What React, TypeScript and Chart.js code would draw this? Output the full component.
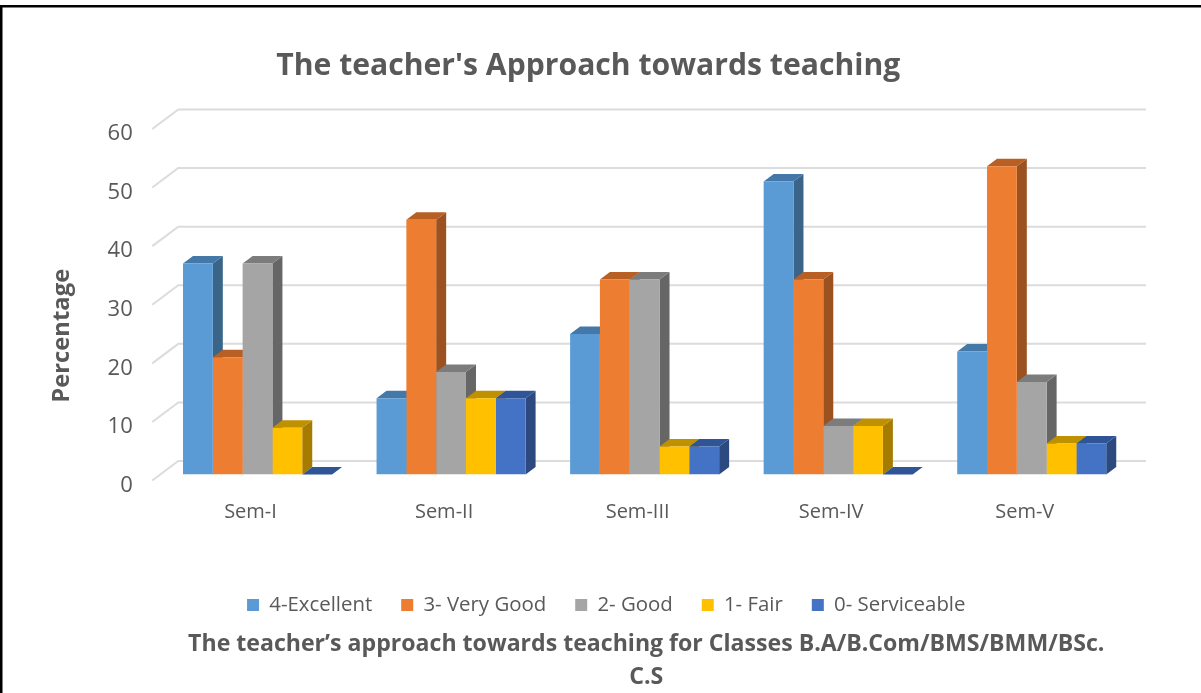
import React, { useEffect, useRef } from "react";
import { Chart, registerables } from "chart.js";

Chart.register(...registerables);

const categories = ["Sem-I", "Sem-II", "Sem-III", "Sem-IV", "Sem-V"];
const seriesNames = ["4-Excellent", "3- Very Good", "2- Good", "1- Fair", "0- Serviceable"];
const excellent = [36, 13, 24, 50, 21];
const veryGood = [20, 43.5, 33.3, 33.3, 52.6];
const good = [36, 17.5, 33.3, 8.3, 15.8];
const fair = [8, 13, 4.8, 8.3, 5.3];
const serviceable = [0, 13, 4.8, 0, 5.3];
const yTicks = [0, 10, 20, 30, 40, 50, 60];

const seriesValues = [excellent, veryGood, good, fair, serviceable];
const frontColors = ["#5b9bd5", "#ed7d31", "#a5a5a5", "#ffc000", "#4472c4"];
const topColors = ["#4478a8", "#b85f23", "#7c7c7c", "#bf9000", "#2f5597"];
const sideColors = ["#3a6589", "#9c5220", "#666666", "#a67c00", "#2c4a80"];

const TEXT = "#595959";
const FONT = "'Open Sans', sans-serif";
const DEPTH_X = 10;
const DEPTH_Y = 7.5;

const poly = (ctx: CanvasRenderingContext2D, pts: number[][], fill: string) => {
  ctx.beginPath();
  pts.forEach(([x, y], i) => (i ? ctx.lineTo(x, y) : ctx.moveTo(x, y)));
  ctx.closePath();
  ctx.fillStyle = fill;
  ctx.fill();
};

const scene3d = {
  id: "scene3d",
  afterLayout(chart: any) {
    const { titleBlock, legend } = chart;
    const shift = (b: any, dx: number, top?: number) => {
      if (!b) return;
      b.left += dx;
      b.right += dx;
      if (top !== undefined) {
        const h = b.bottom - b.top;
        b.top = top;
        b.bottom = top + h;
      }
    };
    shift(titleBlock, 24);
    shift(legend, 42, 565.8);
    chart.boxes.forEach((b: any) => {
      if (b.options && b.options.text && b.options.text[0] && b !== titleBlock && b.position === "bottom") {
        shift(b, 82, 628);
      }
    });
    const y = chart.scales.y;
    if (!y.$wrapped) {
      const orig = y.drawTitle;
      y.drawTitle = function () {
        const c = chart.ctx;
        c.save();
        c.translate(0, 37);
        orig.call(y);
        c.restore();
      };
      y.$wrapped = true;
    }
  },
  beforeDraw(chart: any) {
    const c = chart.ctx;
    c.save();
    c.fillStyle = "#ffffff";
    c.fillRect(0, 0, chart.width, chart.height);
    c.fillStyle = "#000000";
    c.fillRect(0, 5, chart.width, 2.5);
    c.fillRect(0, 5, 2.5, chart.height);
    c.restore();
  },
  beforeDatasetsDraw(chart: any) {
    const c = chart.ctx;
    const y = chart.scales.y;
    const x0 = chart.chartArea.left;
    const x1 = chart.chartArea.right;
    c.save();
    c.strokeStyle = "#dcdcdc";
    c.lineWidth = 2;
    y.ticks.forEach((t: any) => {
      const p = y.getPixelForValue(t.value);
      c.beginPath();
      c.moveTo(x0 - 8.5, p + 6);
      c.lineTo(x0 + 17.5, p - 13.5);
      c.lineTo(x1 + 17.5, p - 13.5);
      c.stroke();
    });
    seriesNames.forEach((_, i) => {
      chart.getDatasetMeta(i).data.forEach((bar: any) => {
        const { x, y: top, base, width } = bar.getProps(["x", "y", "base", "width"], true);
        const l = x - width / 2;
        const r = x + width / 2;
        if (base - top > 0.5) {
          poly(c, [[r, top], [r + DEPTH_X, top - DEPTH_Y], [r + DEPTH_X, base - DEPTH_Y], [r, base]], sideColors[i]);
        }
        poly(c, [[l, top], [l + DEPTH_X, top - DEPTH_Y], [r + DEPTH_X, top - DEPTH_Y], [r, top]], topColors[i]);
      });
    });
    c.restore();
  },
};

export default function App() {
  const ref = useRef<HTMLCanvasElement>(null);
  useEffect(() => {
    if (!ref.current) return;
    const chart = new Chart(ref.current, {
      type: "bar",
      plugins: [scene3d],
      data: {
        labels: categories,
        datasets: seriesNames.map((name, i) => ({
          label: name,
          data: seriesValues[i],
          backgroundColor: frontColors[i],
          borderWidth: 0,
          categoryPercentage: 0.77,
          barPercentage: 1,
        })),
      },
      options: {
        animation: false,
        responsive: false,
        layout: { padding: { left: 0, right: 72.5, top: 0, bottom: 0 } },
        scales: {
          x: {
            grid: { display: false, drawTicks: false },
            border: { display: false },
            afterFit: (s: any) => {
              s.height = 93;
            },
            ticks: {
              padding: 26,
              labelOffset: -7,
              color: TEXT,
              font: { family: FONT, size: 20 },
              maxRotation: 0,
            },
          },
          y: {
            min: 0,
            max: 60,
            grid: { display: false, drawTicks: false },
            border: { display: false },
            afterBuildTicks: (s: any) => {
              s.ticks = yTicks.map((value) => ({ value }));
            },
            afterFit: (s: any) => {
              s.width = 160.75;
            },
            title: {
              display: true,
              text: "Percentage",
              color: TEXT,
              font: { family: FONT, size: 23.8, weight: "bold" },
              padding: { top: 47.6, bottom: 0 },
            },
            ticks: {
              padding: 28,
              labelOffset: 11,
              color: TEXT,
              font: { family: FONT, size: 22 },
            },
          },
        },
        plugins: {
          tooltip: { enabled: false },
          title: {
            display: true,
            text: "The teacher's Approach towards teaching",
            color: TEXT,
            font: { family: FONT, size: 30.15, weight: "bold", lineHeight: 1.2 },
            padding: { top: 48, bottom: 38.8 },
          },
          subtitle: {
            display: true,
            position: "bottom",
            text: ["The teacher’s approach towards teaching for Classes B.A/B.Com/BMS/BMM/BSc.", "C.S"],
            color: TEXT,
            font: { family: FONT, size: 23.1, weight: "bold", lineHeight: 1.43 },
            padding: 0,
          },
          legend: {
            position: "bottom",
            labels: {
              boxWidth: 12,
              boxHeight: 12,
              padding: 29,
              color: TEXT,
              font: { family: FONT, size: 20.4, lineHeight: 1.2 },
            },
          },
        },
      },
    } as any);
    return () => chart.destroy();
  }, []);
  return (
    <div style={{ position: "absolute", left: 0, top: 0, width: 1201, height: 693 }}>
      <canvas ref={ref} width={1201} height={693} style={{ display: "block" }} />
    </div>
  );
}
